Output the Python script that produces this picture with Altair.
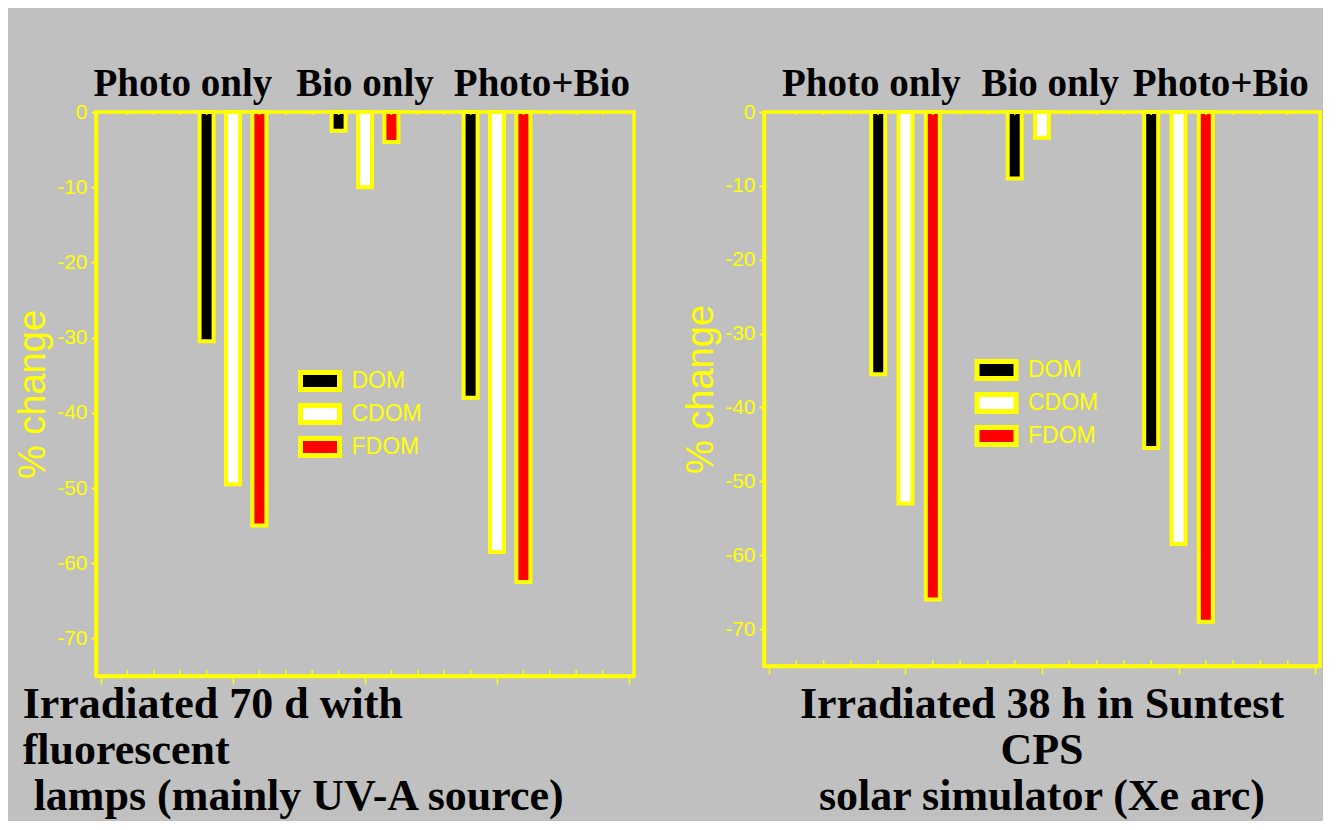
import altair as alt
import pandas as pd

# ---------------- data ----------------
series = ["DOM", "CDOM", "FDOM"]
series_colors = ["#000000", "#ffffff", "#ff0000"]
groups = ["Photo only", "Bio only", "Photo+Bio"]

left_dom = [-30.5, -2.5, -38.0]
left_cdom = [-49.5, -10.0, -58.5]
left_fdom = [-55.0, -4.0, -62.5]

right_dom = [-35.5, -9.0, -45.5]
right_cdom = [-53.0, -3.5, -58.5]
right_fdom = [-66.0, None, -69.0]

group_center = [5, 10, 15]
series_shift = [-1, 0, 1]
left_label_at = [3.1, 10.0, 16.7]
right_label_at = [3.75, 10.3, 16.55]

y_ticks = [0, -10, -20, -30, -40, -50, -60, -70]
x_major = [0, 5, 10, 15, 20]
x_minor = [1, 2, 3, 4, 6, 7, 8, 9, 11, 12, 13, 14, 16, 17, 18, 19]

left_caption = ["Irradiated 70 d with", "fluorescent", "\u200b\u00a0lamps (mainly UV-A source)"]
right_caption = ["Irradiated 38 h in Suntest", "CPS", "solar simulator (Xe arc)"]

# ---------------- style ----------------
YEL = "#ffff00"
BG = "#c0c0c0"
SANS = "Liberation Sans, Arial, sans-serif"
SERIF = "Liberation Serif, Times New Roman, serif"
LEG_PATH = "M-3,-1.308H3V1.308H-3Z"


def panel(dom, cdom, fdom, label_at, caption, anchor, frame, w, h, lx, ly,
          cap_offset, cap_dx):
    rows = []
    for gi, g in enumerate(groups):
        for si, (s, vals) in enumerate(zip(series, [dom, cdom, fdom])):
            v = vals[gi]
            if v is None:
                continue
            rows.append({"group": g, "series": s,
                         "pos": group_center[gi] + series_shift[si], "value": v})
    df = pd.DataFrame(rows)

    xscale = alt.Scale(domain=[0, 20], nice=False, zero=False)
    yscale = alt.Scale(domain=[-75, 0], nice=False, zero=False)

    bars = alt.Chart(df).mark_bar(size=14, stroke=YEL, strokeWidth=4,
                                  strokeJoin="miter").encode(
        x=alt.X("pos:Q", scale=xscale,
                axis=alt.Axis(values=x_major, labels=False, title=None,
                              tickSize=8, tickWidth=1.5, grid=False)),
        y=alt.Y("value:Q", scale=yscale,
                axis=alt.Axis(values=y_ticks, title="% change", tickSize=5,
                              tickWidth=2, labelPadding=4, titlePadding=4,
                              labelExpr="'' + datum.value", grid=False)),
        y2=alt.datum(0),
        color=alt.Color("series:N",
                        scale=alt.Scale(domain=series, range=series_colors),
                        legend=alt.Legend(orient="none", legendX=lx, legendY=ly,
                                          title=None, symbolType=LEG_PATH,
                                          symbolSize=169, symbolStrokeColor=YEL,
                                          symbolStrokeWidth=5, symbolOpacity=1,
                                          labelFont=SANS, labelFontSize=23,
                                          labelColor=YEL, labelOffset=20,
                                          rowPadding=-6, padding=0)),
    )

    minor_df = pd.DataFrame({"pos": x_minor})
    bottom_ticks = alt.Chart(minor_df).mark_rule(color=YEL, strokeWidth=1.5).encode(
        x=alt.X("pos:Q", scale=xscale), y=alt.value(h), y2=alt.value(h - 6))
    top_ticks = alt.Chart(minor_df).mark_rule(color=YEL, strokeWidth=1.5).encode(
        x=alt.X("pos:Q", scale=xscale), y=alt.value(0), y2=alt.value(3))

    lab_df = pd.DataFrame({"group": groups, "at": label_at})
    labels = alt.Chart(lab_df).mark_text(font=SERIF, fontSize=39, fontWeight="bold",
                                         color="black", baseline="alphabetic").encode(
        x=alt.X("at:Q", scale=xscale), y=alt.value(-16), text="group:N")

    return alt.layer(bars, bottom_ticks, top_ticks, labels).properties(
        width=w, height=h,
        title=alt.TitleParams(text=caption, orient="bottom", anchor=anchor,
                              frame=frame, font=SERIF, fontSize=44,
                              fontWeight="bold", color="black", lineHeight=46,
                              offset=cap_offset, dx=cap_dx),
    )


left = panel(left_dom, left_cdom, left_fdom, left_label_at, left_caption,
             "start", "bounds", 538, 564, 212.5, 257.5, -2, 8)
right = panel(right_dom, right_cdom, right_fdom, right_label_at, right_caption,
              "middle", "group", 556, 554, 221, 246.5, 8, 0)

chart = alt.hconcat(left, right, spacing=44).resolve_legend(
    color="independent"
).properties(
    background=BG,
    padding={"left": 4, "top": 55, "right": 1, "bottom": 0},
).configure_view(
    stroke=YEL, strokeWidth=3.5
).configure_axis(
    domainColor=YEL, domainWidth=3.5, tickColor=YEL, labelColor=YEL,
    labelFont=SANS, labelFontSize=21, titleColor=YEL, titleFont=SANS,
    titleFontSize=38, titleFontWeight="normal"
)

chart.save("out.html", embed_options={"renderer": "svg", "actions": False})
